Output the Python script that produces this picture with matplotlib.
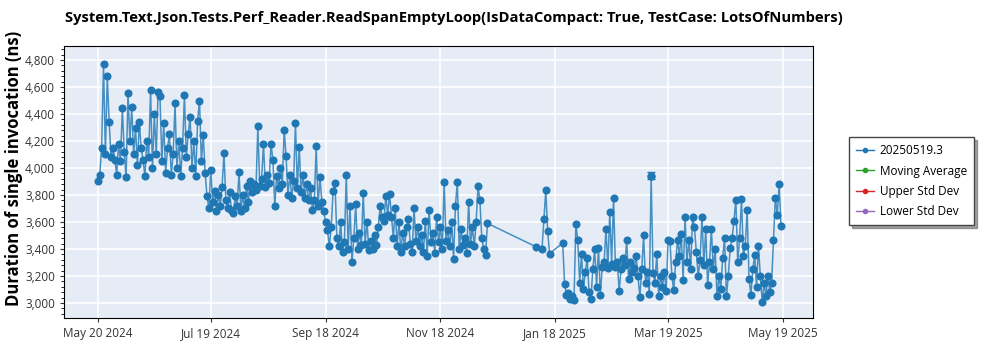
import pandas as pd
import matplotlib
matplotlib.use("Agg")
import matplotlib.pyplot as plt
import matplotlib.dates as mdates
from matplotlib.ticker import AutoMinorLocator, FuncFormatter

plt.rcParams["font.family"] = ["Open Sans", "DejaVu Sans"]

TITLE = "System.Text.Json.Tests.Perf_Reader.ReadSpanEmptyLoop(IsDataCompact: True, TestCase: LotsOfNumbers)"
SERIES_NAME = "20250519.3"

# daily results, May 20 2024 .. Dec 13 2024
run1_start = "2024-05-20"
run1 = [3900, 3950, 4150, 4770, 4100, 4680, 4340, 4080, 4150, 4060,
        3950, 4180, 4050, 4445, 4120, 3930, 4555, 4200, 4450, 4100,
        4300, 4020, 4340, 4150, 4060, 3940, 4200, 4080, 4580, 4000,
        4400, 4100, 4565, 4530, 4050, 4330, 3960, 4150, 4250, 3950,
        4100, 4480, 4000, 4200, 3940, 4150, 4540, 4080, 4250, 4380,
        4000, 4200, 3940, 4350, 4500, 4050, 4245, 3960, 3790,
        3700, 3985, 3750, 3830, 3680, 3800, 3720, 3860, 4110, 3760,
        3700, 3820, 3690, 3670, 3790, 3720, 3970, 3680, 3800, 3700,
        3870, 3750, 3900, 3820, 3880, 3840, 4310, 3870, 3920, 4180,
        3860, 3950, 3890, 4180, 4060, 3720, 3940, 3850, 4000, 3880,
        4280, 4090, 3800, 3950, 3780, 3900, 4335, 3850, 4155, 3820,
        3950, 3780, 3880, 3760, 3850, 3690, 3760, 4160, 3720, 3930,
        3750, 3680, 3600, 3540, 3420, 3565, 3830, 3890, 3480, 3420,
        3600, 3380, 3450, 3950, 3400, 3720, 3300, 3480, 3730, 3400,
        3520, 3430, 3815, 3440, 3600, 3390, 3460, 3400, 3500, 3430,
        3560, 3715, 3640, 3610, 3795, 3650, 3810, 3640, 3480, 3700,
        3420, 3600, 3380, 3520, 3420, 3560, 3620, 3440, 3380, 3700,
        3460, 3560, 3420, 3500, 3380, 3610, 3350, 3690, 3450, 3520,
        3370, 3640, 3450, 3560, 3400, 3895, 3460, 3540, 3420, 3600,
        3325, 3720, 3895, 3400, 3550, 3430, 3480, 3370, 3750, 3440,
        3560, 3420, 3600, 3870, 3760, 3480, 3400, 3355, 3590]

run2_start = "2025-01-08"
run2 = [3415]

run3_start = "2025-01-11"
run3 = [3400, 3620, 3835, 3535, 3365]

run4_start = "2025-01-22"
run4 = [3445, 3140, 3060, 3075, 3030, 3050, 3020, 3585, 3465, 3150,
        3365, 3100, 3230, 3330, 3080, 3030, 3250, 3400, 3120, 3410,
        3060, 3270, 3300, 3550, 3260, 3675, 3290, 3780, 3270, 3300,
        3085, 3250, 3330, 3280, 3465, 3180, 3300, 3230, 3260, 3350,
        3200, 3045, 3250, 3500, 3150, 3230, 3070, 3940, 3220, 3150,
        3360, 3050, 3200, 3120, 3230, 3090, 3465, 3460, 3200, 3095,
        3300, 3470, 3350, 3510, 3170, 3640, 3300, 3470, 3250, 3640,
        3560, 3380, 3200, 3320, 3640, 3280, 3550, 3130, 3300, 3550,
        3250, 3400, 3050, 3200, 3100, 3335, 3480, 3050, 3200, 3410,
        3480, 3610, 3765, 3300, 3480, 3770, 3350, 3420, 3690, 3180,
        3060, 3250, 3355, 3120, 3425, 3200, 3010, 3150, 3050, 3200,
        3080, 3150, 3465, 3780, 3650, 3880, 3570]

# one run with a visible error bar
err_date = "2025-03-10"
err_value = 3940
err_low, err_high = 25, 30

tick_dates = ["2024-05-20", "2024-07-19", "2024-09-18", "2024-11-18",
              "2025-01-18", "2025-03-19", "2025-05-19"]
y_ticks = [3000, 3200, 3400, 3600, 3800, 4000, 4200, 4400, 4600, 4800]

BLUE = "#1f77b4"


def main():
    parts = []
    for start, vals in [(run1_start, run1), (run2_start, run2),
                        (run3_start, run3), (run4_start, run4)]:
        parts.append(pd.Series(vals, index=pd.date_range(start, periods=len(vals), freq="D")))
    s = pd.concat(parts)

    fig = plt.figure(figsize=(10, 3.5), dpi=100)
    ax = fig.add_axes([0.064, 0.092, 0.749, 0.777])
    ax.set_facecolor("#E5ECF6")

    ax.plot(s.index, s.values, color=BLUE, lw=1.1, alpha=0.8, zorder=2)
    ax.plot(s.index, s.values, "o", color=BLUE, ms=4.8, zorder=3)
    ax.errorbar([pd.Timestamp(err_date)], [err_value], yerr=[[err_low], [err_high]],
                fmt="o", color=BLUE, ms=4.8, capsize=3, lw=1, zorder=3)

    # legend entries (trend lines are empty for this run)
    ax.plot([], [], "-o", color=BLUE, ms=3, lw=1, label=SERIES_NAME)
    ax.plot([], [], "-o", color="#2ca02c", ms=3, lw=1, label="Moving Average")
    ax.plot([], [], "-o", color="#d62728", ms=3, lw=1, label="Upper Std Dev")
    ax.plot([], [], "-o", color="#9467bd", ms=3, lw=1, label="Lower Std Dev")

    ax.set_xlim(pd.Timestamp("2024-05-02"), pd.Timestamp("2025-06-04"))
    ax.set_ylim(2890, 4905)
    ax.set_xticks([pd.Timestamp(d) for d in tick_dates])
    ax.xaxis.set_major_formatter(mdates.DateFormatter("%b %d %Y"))
    ax.set_yticks(y_ticks)
    ax.yaxis.set_major_formatter(FuncFormatter(lambda v, p: f"{int(v):,}"))
    ax.yaxis.set_minor_locator(AutoMinorLocator(5))
    ax.tick_params(axis="both", labelsize=8.5, colors="#333333", length=3)
    ax.tick_params(axis="y", which="minor", length=2)
    ax.grid(True, color="white", lw=1.2)
    ax.set_axisbelow(True)
    for sp in ax.spines.values():
        sp.set_color("black")

    fig.text(0.065, 0.948, TITLE, fontsize=10.6, fontweight="bold", va="center")
    fig.text(0.014, 0.52, "Duration of single invocation (ns)", fontsize=12,
             fontweight="bold", rotation=90, va="center", ha="center")

    handles, labels = ax.get_legend_handles_labels()
    leg = fig.legend(handles, labels, loc="upper left", bbox_to_anchor=(0.843, 0.625),
                     fontsize=8.5, frameon=True, fancybox=False, shadow=True,
                     borderpad=0.6, labelspacing=0.62, handlelength=1.5,
                     handletextpad=0.5)
    leg.get_frame().set_edgecolor("#444444")

    fig.savefig("out.png", dpi=100)
    plt.close(fig)


if __name__ == "__main__":
    main()
